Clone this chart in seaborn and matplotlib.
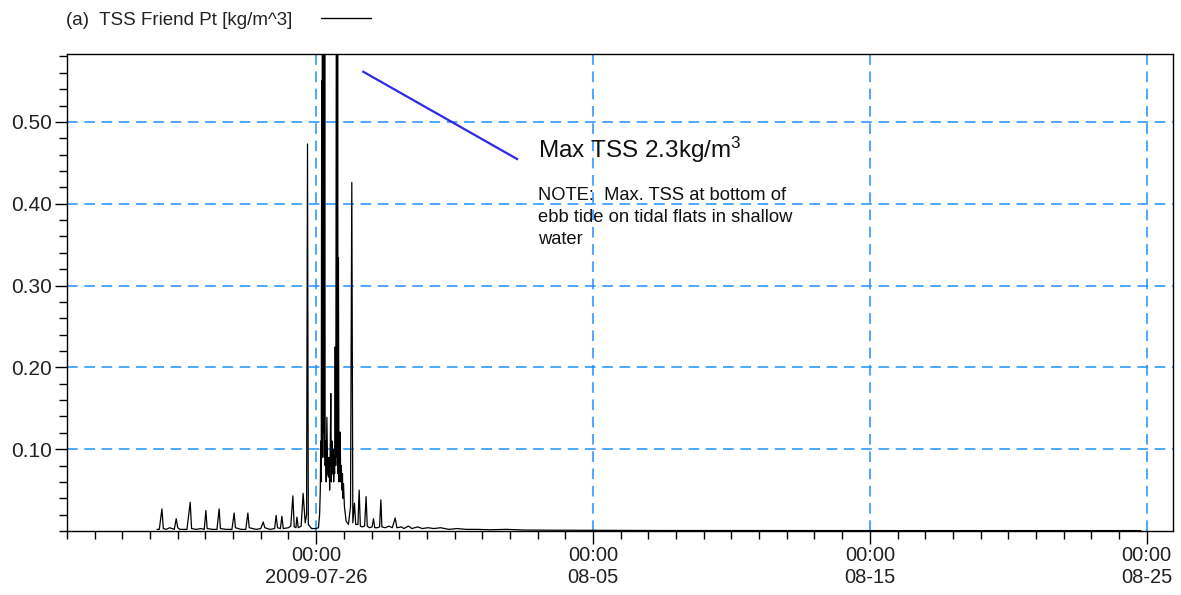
import numpy as np
import pandas as pd
import matplotlib
matplotlib.use("Agg")
import matplotlib.pyplot as plt
from matplotlib.ticker import FixedLocator, MultipleLocator
import matplotlib.dates as mdates
import seaborn as sns

# ---------------- data ----------------
ref_time = "2009-07-26 00:00"
series_label = "(a)  TSS Friend Pt [kg/m^3]"

# hours relative to 2009-07-26 00:00
hours = [-138, -136, -133.7, -132.5, -130, -127, -123, -121.3, -120, -118,
         -112, -109.2, -108, -104, -100, -97, -95.6, -94.5, -90, -86,
         -84.1, -83, -78, -73, -71.1, -70, -65, -61, -59.2, -58,
         -52, -48, -45.9, -44.5, -40, -36, -34.7, -33.5, -31, -29.7,
         -28.5, -24, -22, -20.2, -19, -17.5, -16.7, -15.5, -13, -11.3,
         -9.5, -8.3, -7.5, -6.8, -4, 0, 2, 3,
         3.6, 4.0, 4.4, 4.8, 5.2, 5.6, 6.0, 6.5, 7.0, 7.4,
         7.8, 8.2, 8.7, 9.3, 10.0, 10.7, 11.2, 11.7, 12.2, 12.7,
         13.2, 13.8, 14.2, 14.7, 15.2, 15.6, 16.0, 16.5, 17.0, 17.8,
         18.2, 18.6, 19.0, 19.3, 19.8, 20.3, 20.8, 21.3, 21.8, 22.3,
         22.8, 23.2, 23.7, 24.5, 26, 28, 29.8,
         30.9, 31.8, 33.2, 34.3, 36.2, 37.3, 38.3, 40, 42, 43.3,
         44.3, 46, 48.5, 49.7, 50.8, 53, 55, 56.1, 57, 60,
         63, 66, 68.5, 70, 74, 76, 80, 83, 88, 92,
         97, 102, 108, 115, 122, 130, 140, 150, 165, 180,
         200, 240, 300, 400, 500, 600, 715]
tss = [0.002, 0.002, 0.027, 0.003, 0.002, 0.004, 0.002, 0.015, 0.004, 0.002,
       0.002, 0.035, 0.003, 0.002, 0.003, 0.002, 0.025, 0.003, 0.002, 0.002,
       0.027, 0.003, 0.002, 0.002, 0.022, 0.004, 0.002, 0.002, 0.022, 0.004,
       0.002, 0.003, 0.011, 0.004, 0.002, 0.003, 0.019, 0.004, 0.003, 0.018,
       0.003, 0.004, 0.006, 0.043, 0.005, 0.004, 0.017, 0.004, 0.006, 0.046,
       0.010, 0.020, 0.473, 0.008, 0.003, 0.003, 0.004, 0.020,
       0.050, 0.110, 0.060, 0.550, 0.090, 2.300, 0.120, 1.500, 0.090, 0.800,
       0.080, 0.110, 0.060, 0.139, 0.070, 0.066, 0.090, 0.050, 0.100, 0.168,
       0.060, 0.110, 0.070, 0.100, 0.060, 0.090, 0.070, 0.225, 0.080, 1.000,
       0.090, 0.700, 0.070, 0.334, 0.060, 0.100, 0.121, 0.060, 0.080, 0.050,
       0.070, 0.040, 0.058, 0.030, 0.012, 0.008, 0.030,
       0.426, 0.010, 0.034, 0.008, 0.008, 0.050, 0.006, 0.005, 0.006, 0.042,
       0.006, 0.004, 0.005, 0.015, 0.004, 0.004, 0.005, 0.038, 0.005, 0.004,
       0.006, 0.004, 0.016, 0.004, 0.005, 0.003, 0.006, 0.003, 0.005, 0.003,
       0.004, 0.003, 0.004, 0.002, 0.003, 0.002, 0.002, 0.0015, 0.002, 0.0012,
       0.001, 0.0008, 0.0006, 0.0005, 0.0005, 0.0005, 0.0005]

y_major = [0.10, 0.20, 0.30, 0.40, 0.50]
y_labels = ["0.10", "0.20", "0.30", "0.40", "0.50"]
x_tick_dates = ["2009-07-26", "2009-08-05", "2009-08-15", "2009-08-25"]
x_tick_labels = ["00:00\n2009-07-26", "00:00\n08-05", "00:00\n08-15", "00:00\n08-25"]
x_range = ["2009-07-17 00:00", "2009-08-25 22:50"]
y_range = [0.0, 0.583]

note_line_hours = [40, 175]
note_line_tss = [0.562, 0.454]
max_text = "Max TSS 2.3kg/m$^{3}$"
max_text_hours, max_text_tss = 192.5, 0.456
note_text = "NOTE:  Max. TSS at bottom of\nebb tide on tidal flats in shallow\nwater"
note_text_hours, note_text_tss = 192.5, 0.421

# ---------------- style ----------------
sns.set_style("white")
plt.rcParams["font.family"] = ["Liberation Sans", "DejaVu Sans"]
plt.rcParams["axes.unicode_minus"] = False
plt.rcParams["mathtext.fontset"] = "custom"
plt.rcParams["mathtext.rm"] = "Liberation Sans"
plt.rcParams["mathtext.it"] = "Liberation Sans"
plt.rcParams["mathtext.default"] = "regular"

W, H = 1181, 595
fig = plt.figure(figsize=(W / 100, H / 100), dpi=100)
ax = fig.add_axes([67 / W, 1 - 531 / H, (1173 - 67) / W, (531 - 54) / H])

t0 = pd.Timestamp(ref_time)
df = pd.DataFrame({"time": t0 + pd.to_timedelta(hours, unit="h"), "tss": tss})

sns.lineplot(data=df, x="time", y="tss", color="black", lw=0.9,
             errorbar=None, sort=True, ax=ax, label=series_label)

grid_kw = dict(color="#1E90FF", lw=1.1, ls=(0, (7, 4.3)), zorder=0)
ax.set_xlim(pd.Timestamp(x_range[0]), pd.Timestamp(x_range[1]))
ax.set_ylim(*y_range)

# y ticks
ax.yaxis.set_major_locator(FixedLocator(y_major))
ax.set_yticklabels(y_labels)
ax.yaxis.set_minor_locator(MultipleLocator(0.02))
# x ticks
xt = [mdates.date2num(pd.Timestamp(d)) for d in x_tick_dates]
ax.xaxis.set_major_locator(FixedLocator(xt))
ax.set_xticklabels(x_tick_labels)
ax.xaxis.set_minor_locator(mdates.DayLocator())

ax.grid(True, which="major", **grid_kw)
ax.set_axisbelow(True)
ax.tick_params(which="major", direction="out", length=9, width=1, colors="black",
               labelcolor="#222222", left=True, bottom=True, pad=2)
ax.tick_params(axis="y", which="major", labelsize=15)
ax.tick_params(axis="x", which="major", labelsize=14.5)
ax.tick_params(which="minor", direction="out", length=6, width=1, colors="black",
               left=True, bottom=True)
ax.set_xlabel("")
ax.set_ylabel("")
for s in ax.spines.values():
    s.set_visible(True)
    s.set_color("black")
    s.set_linewidth(1.0)

# annotation
ax.plot(t0 + pd.to_timedelta(note_line_hours, unit="h"), note_line_tss,
        color="#2B2BE6", lw=1.6, solid_capstyle="butt")
ax.text(t0 + pd.Timedelta(hours=max_text_hours), max_text_tss, max_text,
        fontsize=17.5, color="#111111", va="baseline", ha="left")
ax.text(t0 + pd.Timedelta(hours=note_text_hours), note_text_tss, note_text,
        fontsize=13.2, color="#111111", va="top", ha="left", linespacing=1.4)

# legend on top (text then line)
leg = ax.legend(loc="center left", bbox_to_anchor=(66 / W, 1 - 20 / H),
                bbox_transform=fig.transFigure, frameon=False, markerfirst=False,
                fontsize=13.5, handlelength=2.7, handletextpad=1.5,
                borderpad=0, borderaxespad=0)
for line in leg.get_lines():
    line.set_linewidth(1.0)
for t in leg.get_texts():
    t.set_color("#222222")

fig.savefig("out.png", dpi=100)
